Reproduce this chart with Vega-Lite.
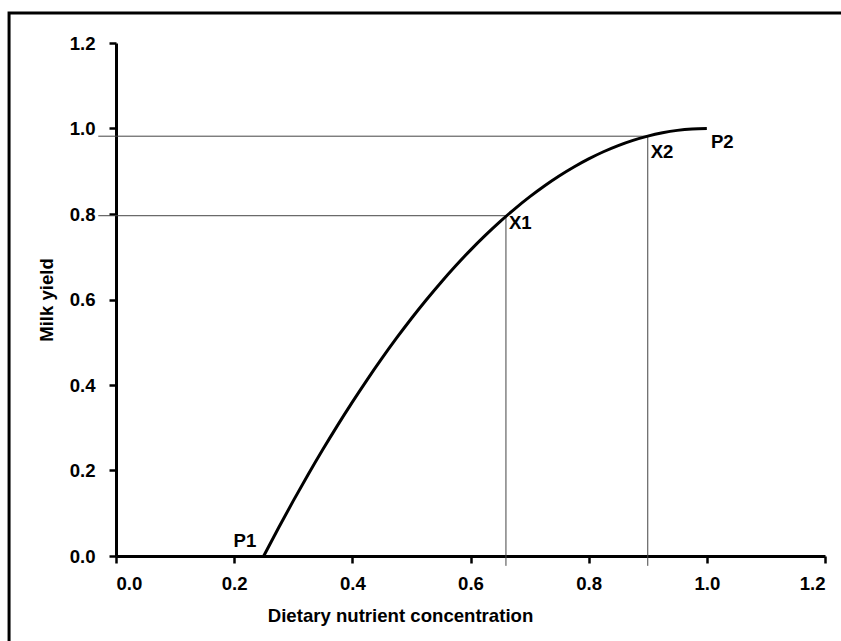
{
  "$schema": "https://vega.github.io/schema/vega-lite/v6.json",
  "width": 709,
  "height": 513,
  "autosize": "none",
  "padding": {"left": 116, "top": 43, "right": 16, "bottom": 85},
  "background": "white",
  "config": {"view": {"stroke": null}, "font": "Liberation Sans"},
  "datasets": {
    "curve": [
      {"x": 0.25, "y": 0.0}, {"x": 0.275, "y": 0.0656}, {"x": 0.3, "y": 0.1289}, {"x": 0.325, "y": 0.19},
      {"x": 0.35, "y": 0.2489}, {"x": 0.375, "y": 0.3056}, {"x": 0.4, "y": 0.36}, {"x": 0.425, "y": 0.4122},
      {"x": 0.45, "y": 0.4622}, {"x": 0.475, "y": 0.51}, {"x": 0.5, "y": 0.5556}, {"x": 0.525, "y": 0.5989},
      {"x": 0.55, "y": 0.64}, {"x": 0.575, "y": 0.6789}, {"x": 0.6, "y": 0.7156}, {"x": 0.625, "y": 0.75},
      {"x": 0.65, "y": 0.7822}, {"x": 0.675, "y": 0.8122}, {"x": 0.7, "y": 0.84}, {"x": 0.725, "y": 0.8656},
      {"x": 0.75, "y": 0.8889}, {"x": 0.775, "y": 0.91}, {"x": 0.8, "y": 0.9289}, {"x": 0.825, "y": 0.9456},
      {"x": 0.85, "y": 0.96}, {"x": 0.875, "y": 0.9722}, {"x": 0.9, "y": 0.9822}, {"x": 0.925, "y": 0.99},
      {"x": 0.95, "y": 0.9956}, {"x": 0.975, "y": 0.9989}, {"x": 1.0, "y": 1.0}
    ],
    "guides": [
      {"x": -0.03, "x2": 0.66, "y": 0.796, "y2": 0.796},
      {"x": 0.66, "x2": 0.66, "y": -0.023, "y2": 0.796},
      {"x": -0.03, "x2": 0.9, "y": 0.982, "y2": 0.982},
      {"x": 0.9, "x2": 0.9, "y": -0.023, "y2": 0.982}
    ],
    "labels": [
      {"t": "P1", "x": 0.199, "y": 0.035},
      {"t": "X1", "x": 0.665, "y": 0.78},
      {"t": "X2", "x": 0.905, "y": 0.945},
      {"t": "P2", "x": 1.007, "y": 0.968}
    ]
  },
  "layer": [
    {
      "data": {"values": [{}]},
      "mark": {"type": "rect", "fill": "transparent", "stroke": "black", "strokeWidth": 3, "clip": false},
      "encoding": {
        "x": {"datum": -0.181, "type": "quantitative", "scale": {"domain": [0, 1.2], "nice": false}},
        "x2": {"datum": 1.235},
        "y": {"datum": 1.27, "type": "quantitative", "scale": {"domain": [0, 1.2], "nice": false}},
        "y2": {"datum": -0.21}
      }
    },
    {
      "data": {"name": "guides"},
      "mark": {"type": "rule", "color": "#444444", "strokeWidth": 1, "clip": false},
      "encoding": {
        "x": {"field": "x", "type": "quantitative"},
        "x2": {"field": "x2"},
        "y": {"field": "y", "type": "quantitative"},
        "y2": {"field": "y2"}
      }
    },
    {
      "data": {"name": "curve"},
      "mark": {"type": "line", "color": "black", "strokeWidth": 3, "interpolate": "monotone"},
      "encoding": {
        "x": {
          "field": "x", "type": "quantitative",
          "scale": {"domain": [0, 1.2], "nice": false},
          "axis": {
            "values": [0, 0.2, 0.4, 0.6, 0.8, 1.0, 1.2], "format": ".1f", "grid": false,
            "domainColor": "black", "domainWidth": 3, "tickColor": "black", "tickWidth": 2.5, "tickSize": 7,
            "labelFont": "Liberation Sans", "labelFontWeight": "bold", "labelFontSize": 18.6, "labelColor": "black", "labelPadding": 11,
            "title": "Dietary nutrient concentration", "titleFont": "Liberation Sans", "titleFontWeight": "bold", "titleFontSize": 18.6, "titleColor": "black",
            "titleX": 284, "titlePadding": 14
          }
        },
        "y": {
          "field": "y", "type": "quantitative",
          "scale": {"domain": [0, 1.2], "nice": false},
          "axis": {
            "values": [0, 0.2, 0.4, 0.6, 0.8, 1.0, 1.2], "format": ".1f", "grid": false,
            "domainColor": "black", "domainWidth": 3, "tickColor": "black", "tickWidth": 2.5, "tickSize": 7,
            "labelFont": "Liberation Sans", "labelFontWeight": "bold", "labelFontSize": 18.6, "labelColor": "black", "labelPadding": 14,
            "title": "Milk yield", "titleFont": "Liberation Sans", "titleFontWeight": "bold", "titleFontSize": 18.6, "titleColor": "black",
            "titlePadding": 13
          }
        }
      }
    },
    {
      "data": {"name": "labels"},
      "mark": {"type": "text", "align": "left", "baseline": "middle", "font": "Liberation Sans", "fontWeight": "bold", "fontSize": 18.6, "color": "black", "clip": false},
      "encoding": {
        "x": {"field": "x", "type": "quantitative"},
        "y": {"field": "y", "type": "quantitative"},
        "text": {"field": "t"}
      }
    }
  ]
}
